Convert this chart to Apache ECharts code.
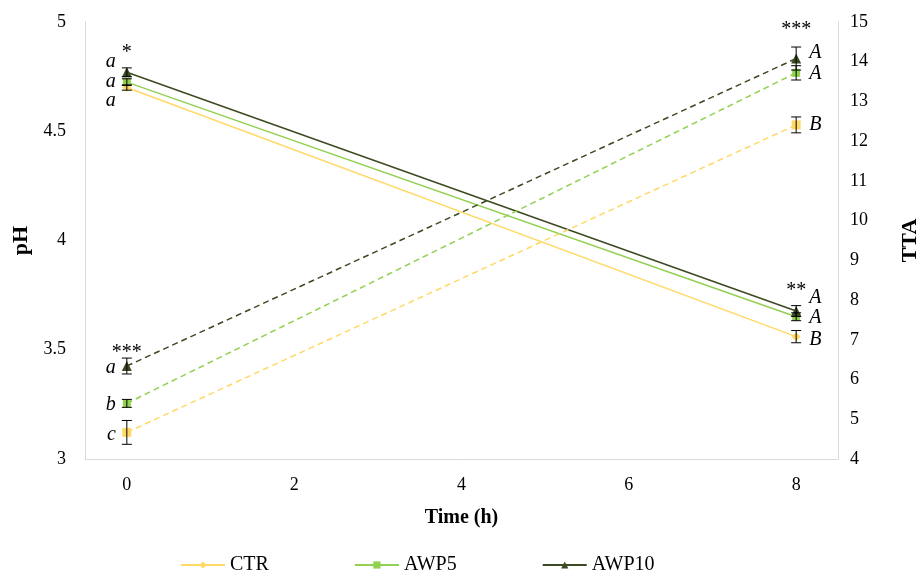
<!DOCTYPE html>
<html><head><meta charset="utf-8">
<script src="https://cdn.jsdelivr.net/npm/echarts@6/dist/echarts.min.js"></script>
<style>html,body{margin:0;padding:0;background:#fff}#c{width:921px;height:572px}</style>
</head><body><div id="c"></div>
<script>
const times = [0, 8];
const groups = ['CTR', 'AWP5', 'AWP10'];
const xTicks = [0, 2, 4, 6, 8];
// pH (left axis, solid lines)
const phCTR = [4.70, 3.56];
const phAWP5 = [4.725, 3.651];
const phAWP10 = [4.77, 3.677];
const phErrCTR = [0.012, 0.028];
const phErrAWP5 = [0.015, 0.018];
const phErrAWP10 = [0.02, 0.025];
const phLetCTR = ['a', 'B'];
const phLetAWP5 = ['a', 'A'];
const phLetAWP10 = ['a', 'A'];
const phStars = ['*', '**'];
// TTA (right axis, dashed lines)
const ttaCTR = [4.67, 12.41];
const ttaAWP5 = [5.40, 13.72];
const ttaAWP10 = [6.34, 14.08];
const ttaErrCTR = [0.3, 0.2];
const ttaErrAWP5 = [0.1, 0.18];
const ttaErrAWP10 = [0.2, 0.29];
const ttaLetCTR = ['c', 'B'];
const ttaLetAWP5 = ['b', 'A'];
const ttaLetAWP10 = ['a', 'A'];
const ttaStars = ['***', '***'];

const colors = {CTR: '#FFD966', AWP5: '#92D050', AWP10: '#3B4A22'};
const FONT = '"Liberation Serif","Times New Roman",serif';

const ph = {CTR: phCTR, AWP5: phAWP5, AWP10: phAWP10};
const phErr = {CTR: phErrCTR, AWP5: phErrAWP5, AWP10: phErrAWP10};
const phLet = {CTR: phLetCTR, AWP5: phLetAWP5, AWP10: phLetAWP10};
const tta = {CTR: ttaCTR, AWP5: ttaAWP5, AWP10: ttaAWP10};
const ttaErr = {CTR: ttaErrCTR, AWP5: ttaErrAWP5, AWP10: ttaErrAWP10};
const ttaLet = {CTR: ttaLetCTR, AWP5: ttaLetAWP5, AWP10: ttaLetAWP10};

// style-only label offsets (px)
const phLetDy = {CTR: [13, 3], AWP5: [0, 1], AWP10: [-11, -13]};
const ttaLetDy = {CTR: [2, 0], AWP5: [1, 1], AWP10: [2, -6]};
const phStarDy = [-20, -20];
const ttaStarDy = [-10, -22];

const phSymbols = {CTR: 'diamond', AWP5: 'rect', AWP10: 'triangle'};
const ttaSymbols = {CTR: 'rect', AWP5: 'rect', AWP10: 'triangle'};
const symSize = {CTR: 9, AWP5: 8, AWP10: 10};

function lineSeries(name, vals, axis, dashed, symbol, g) {
  return {
    name: name, type: 'line', yAxisIndex: axis,
    data: times.map((t, i) => [t, vals[i]]),
    symbol: symbol, symbolSize: symSize[g], showSymbol: true,
    itemStyle: {color: colors[g]},
    lineStyle: {color: colors[g], width: 1.5, type: dashed ? [6, 4] : 'solid'},
    z: 3, silent: true, animation: false
  };
}

function errSeries(vals, errs, letters, letDy, axis) {
  return {
    type: 'custom', yAxisIndex: axis, silent: true, z: 6, animation: false,
    encode: {x: 0, y: 1},
    data: times.map((t, i) => [t, vals[i], errs[i], i]),
    renderItem: function (params, api) {
      const x = api.value(0), v = api.value(1), e = api.value(2), i = api.value(3);
      const top = api.coord([x, v + e]), bot = api.coord([x, v - e]), c = api.coord([x, v]);
      const hw = 5;
      const st = {stroke: '#000', lineWidth: 1};
      const left = i === 0;
      return {type: 'group', children: [
        {type: 'line', shape: {x1: top[0], y1: top[1], x2: bot[0], y2: bot[1]}, style: st},
        {type: 'line', shape: {x1: top[0] - hw, y1: top[1], x2: top[0] + hw, y2: top[1]}, style: st},
        {type: 'line', shape: {x1: bot[0] - hw, y1: bot[1], x2: bot[0] + hw, y2: bot[1]}, style: st},
        {type: 'text', style: {
          text: letters[i], x: left ? c[0] - 11 : c[0] + 13, y: c[1] + letDy[i],
          align: left ? 'right' : 'left', verticalAlign: 'middle',
          font: 'italic 20px ' + FONT, fill: '#000'}}
      ]};
    }
  };
}

function starSeries(stars, dys, vals, errs, axis) {
  return {
    type: 'custom', yAxisIndex: axis, silent: true, z: 7, animation: false,
    encode: {x: 0, y: 1},
    data: times.map((t, i) => [t, vals[i] + errs[i], i]),
    renderItem: function (params, api) {
      const x = api.value(0), v = api.value(1), i = api.value(2);
      const p = api.coord([x, v]);
      return {type: 'text', style: {
        text: stars[i], x: p[0], y: p[1] + dys[i] + 5,
        align: 'center', verticalAlign: 'middle',
        font: '20px ' + FONT, fill: '#000'}};
    }
  };
}

const series = [];
groups.forEach(g => {
  series.push(lineSeries(g, ph[g], 0, false, phSymbols[g], g));
});
groups.forEach(g => {
  series.push(lineSeries(g + ' TTA', tta[g], 1, true, ttaSymbols[g], g));
});
groups.forEach(g => {
  series.push(errSeries(ph[g], phErr[g], phLet[g], phLetDy[g], 0));
  series.push(errSeries(tta[g], ttaErr[g], ttaLet[g], ttaLetDy[g], 1));
});
series.push(starSeries(phStars, phStarDy, phAWP10, phErrAWP10, 0));
series.push(starSeries(ttaStars, ttaStarDy, [ttaAWP10[0], ttaAWP10[1]], ttaErrAWP10, 1));

const axisLineX = {show: true, onZero: false, lineStyle: {color: '#D9D9D9', width: 1}};
const axisLineY = {show: true, onZero: false, lineStyle: {color: '#D9D9D9', width: 1}};
const labelStyle = {fontFamily: FONT, fontSize: 18, color: '#000'};

const option = {
  backgroundColor: '#fff',
  animation: false,
  grid: {left: 85, right: 83, top: 22, bottom: 113, containLabel: false, outerBoundsMode: 'none'},
  legend: {
    data: groups, left: 175, top: 550, itemWidth: 44, itemHeight: 9, itemGap: 85,
    textStyle: {fontFamily: FONT, fontSize: 20, color: '#000'}
  },
  xAxis: {
    type: 'value', min: -0.5, max: 8.5, interval: 0.5,
    axisLine: axisLineX, axisTick: {show: false}, splitLine: {show: false},
    axisLabel: Object.assign({margin: 17, formatter: v => xTicks.indexOf(v) >= 0 ? String(v) : ''}, labelStyle),
    name: 'Time (h)', nameLocation: 'middle', nameGap: 49,
    nameTextStyle: {fontFamily: FONT, fontSize: 20, fontWeight: 'bold', color: '#000'}
  },
  yAxis: [{
    type: 'value', min: 3, max: 5, interval: 0.5, position: 'left',
    axisLine: axisLineY, axisTick: {show: false}, splitLine: {show: false},
    axisLabel: Object.assign({margin: 19}, labelStyle),
    name: 'pH', nameLocation: 'middle', nameGap: 52, nameRotate: 90,
    nameTextStyle: {fontFamily: FONT, fontSize: 22, fontWeight: 'bold', color: '#000'}
  }, {
    type: 'value', min: 4, max: 15, interval: 1, position: 'right',
    axisLine: axisLineY, axisTick: {show: false}, splitLine: {show: false},
    axisLabel: Object.assign({margin: 12}, labelStyle),
    name: 'TTA', nameLocation: 'middle', nameGap: 61, nameRotate: 90,
    nameTextStyle: {fontFamily: FONT, fontSize: 22, fontWeight: 'bold', color: '#000'}
  }],
  series: series
};
const chart = echarts.init(document.getElementById('c'), null, {renderer: 'canvas'});
chart.setOption(option);
</script></body></html>
